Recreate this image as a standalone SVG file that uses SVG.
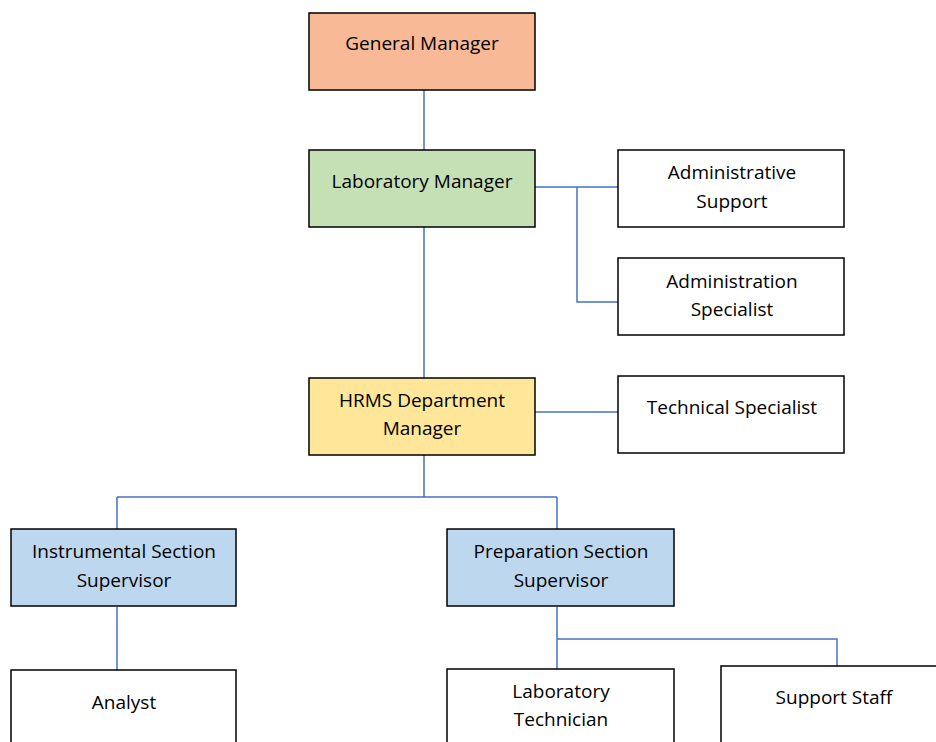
<svg xmlns="http://www.w3.org/2000/svg" width="936" height="742" viewBox="0 0 936 742">
<style>
.box{stroke:#000;stroke-width:1.5}
.w{fill:#fff}
text{font-family:"Open Sans","Liberation Sans",sans-serif;font-size:19px;fill:#000;text-anchor:middle}
.c{fill:none;stroke:#4472C4;stroke-width:1.5}
</style>
<rect width="936" height="742" fill="#fff"/>
<g id="connectors">
<path class="c" d="M424 90V150M424 227V378"/>
<path class="c" d="M535 187H618M577 187V302H618"/>
<path class="c" d="M535 412H618"/>
<path class="c" d="M424 455V497M117 497H557M117 497V529M557 497V529"/>
<path class="c" d="M117 607V670"/>
<path class="c" d="M557 607V669M557 639H837V666"/>
</g>
<g id="general-manager"><rect class="box" x="309" y="13" width="226" height="77" fill="#F8BA96"/><text x="422" y="50">General Manager</text></g>
<g id="laboratory-manager"><rect class="box" x="309" y="150" width="226" height="77" fill="#C5E0B4"/><text x="422" y="188">Laboratory Manager</text></g>
<g id="administrative-support"><rect class="box w" x="618" y="150" width="226" height="77"/><text x="732" y="179">Administrative</text><text x="732" y="208">Support</text></g>
<g id="administration-specialist"><rect class="box w" x="618" y="258" width="226" height="77"/><text x="732" y="288">Administration</text><text x="732" y="316">Specialist</text></g>
<g id="hrms-department-manager"><rect class="box" x="309" y="378" width="226" height="77" fill="#FFE699"/><text x="422" y="407">HRMS Department</text><text x="422" y="435">Manager</text></g>
<g id="technical-specialist"><rect class="box w" x="618" y="376" width="226" height="77"/><text x="732" y="414">Technical Specialist</text></g>
<g id="instrumental-section-supervisor"><rect class="box" x="11" y="529" width="225" height="77" fill="#BDD7EE"/><text x="124" y="558">Instrumental Section</text><text x="124" y="587">Supervisor</text></g>
<g id="preparation-section-supervisor"><rect class="box" x="447" y="529" width="227" height="77" fill="#BDD7EE"/><text x="561" y="558">Preparation Section</text><text x="561" y="587">Supervisor</text></g>
<g id="analyst"><rect class="box w" x="11" y="670" width="225" height="90"/><text x="124" y="709">Analyst</text></g>
<g id="laboratory-technician"><rect class="box w" x="447" y="669" width="227" height="90"/><text x="561" y="698">Laboratory</text><text x="561" y="726">Technician</text></g>
<g id="support-staff"><rect class="box w" x="721" y="666" width="227" height="90"/><text x="834" y="704">Support Staff</text></g>
</svg>
